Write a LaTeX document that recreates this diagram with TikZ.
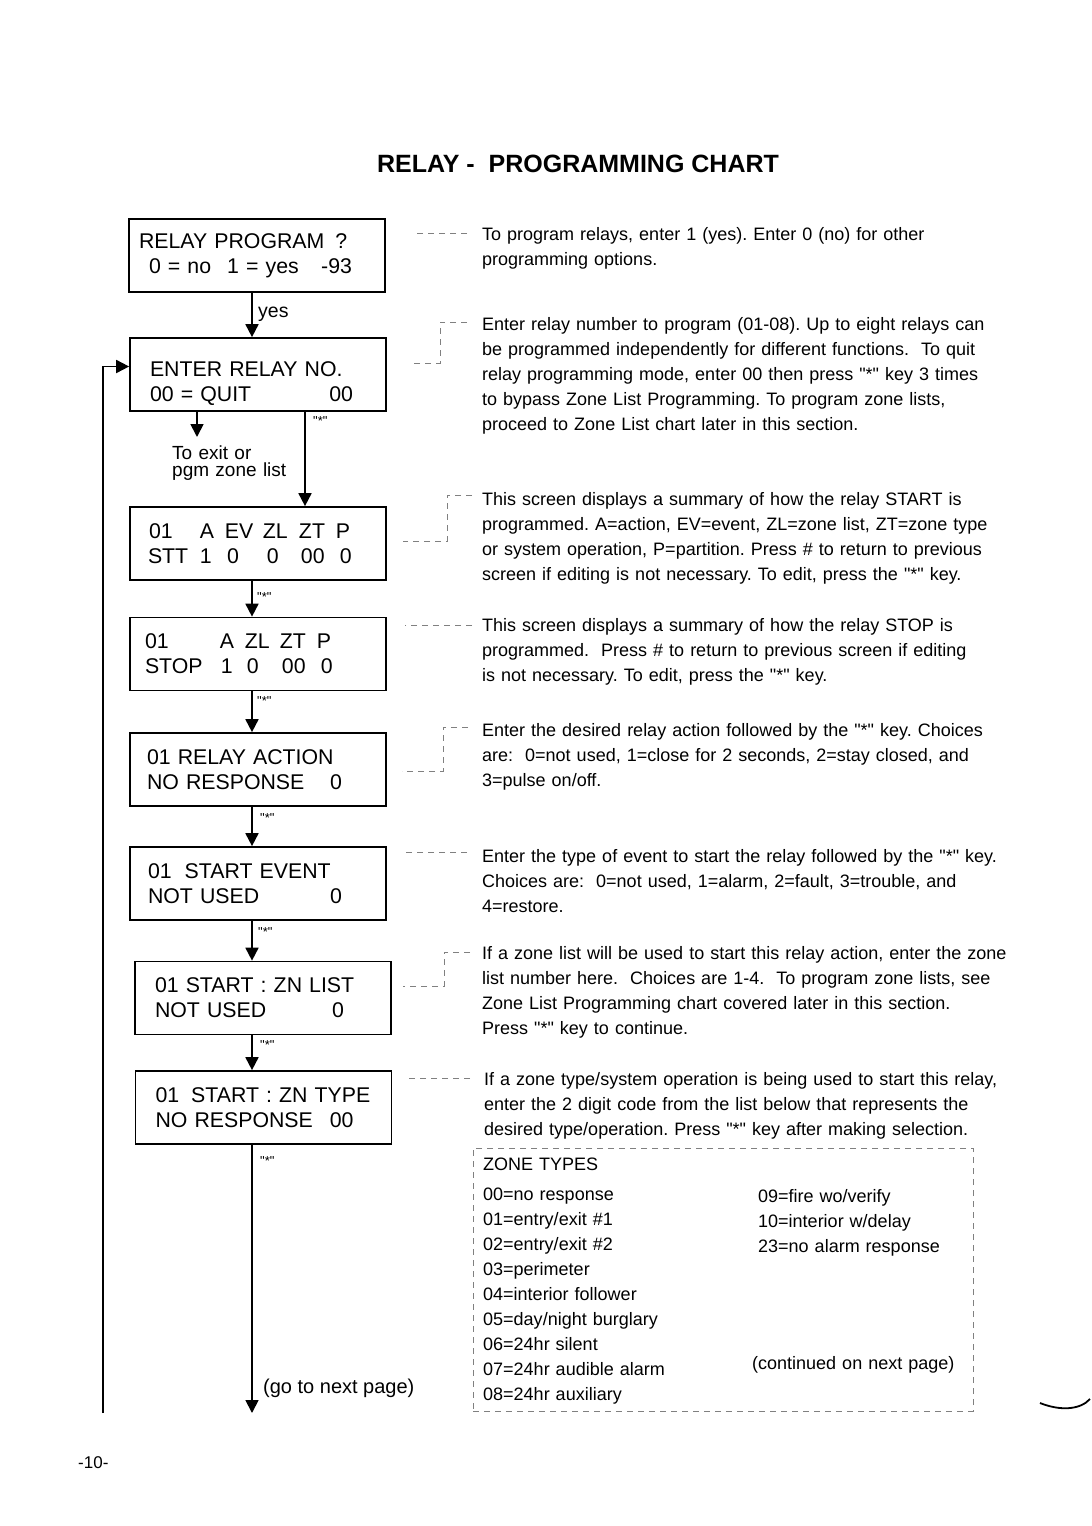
\documentclass[tikz,border=0pt]{standalone}
\usepackage{fontspec}
\setmainfont{Liberation Sans}
\usetikzlibrary{arrows.meta}
\frenchspacing
\newcommand\screenfont{\fontsize{21.3}{25}\selectfont}
\newcommand\notefont{\fontsize{18}{25}\selectfont}
\newcommand\scol[2]{\makebox[#1pt][l]{#2}}
\newcommand\qstar{\textquotedbl*\textquotedbl}

\begin{document}
\begin{tikzpicture}[x=1pt,y=-1pt,>={Triangle[width=13pt,length=13pt]},
  screen/.style={draw,line width=1.7pt,minimum height=73pt,inner xsep=10pt,inner ysep=0pt,text width=236pt,align=left,font=\screenfont},
  flow/.style={->,line width=1.8pt},
  leader/.style={gray,line width=0.7pt,dash pattern=on 6pt off 5pt},
  note/.style={anchor=base west,inner sep=0pt,text width=560pt,align=left,font=\notefont},
  keymark/.style={anchor=base west,inner sep=0pt,font=\fontsize{13}{13}\selectfont},
  zonebox/.style={draw=gray,line width=0.7pt,dash pattern=on 6pt off 5pt,minimum width=500pt,minimum height=263pt}]
\useasboundingbox (0,0) rectangle (1092,1526);

\node[anchor=base,font=\fontsize{25}{28}\selectfont\bfseries] (title) at (578,172) {RELAY -\ \ PROGRAMMING CHART};

% screens
\node[screen] (prog) at (257,255.5) {RELAY PROGRAM\hspace{11pt}?\\\hspace*{10pt}0 = no\hspace{16pt}1 = yes\hfill-93\hspace*{23pt}\null};
\node[screen] (relno) at (258,374.5) {\rule{0pt}{33pt}\hspace*{10pt}ENTER RELAY NO.\\\hspace*{10pt}00 = QUIT\hfill 00\hspace*{23pt}\null};
\node[screen] (startsum) at (258,543.5) {\hspace*{9pt}\scol{51}{01}\scol{25}{A}\scol{38}{EV}\scol{36}{ZL}\scol{37}{ZT}P\\\hspace*{8pt}\scol{52}{STT}\scol{27}{1}\scol{40}{0}\scol{34}{0}\scol{39}{00}0};
\node[screen] (stopsum) at (258,654) {\hspace*{5pt}\scol{75}{01}\scol{25}{A}\scol{35}{ZL}\scol{37}{ZT}P\\\hspace*{5pt}\scol{76}{STOP}\scol{26}{1}\scol{35}{0}\scol{39}{00}0};
\node[screen] (action) at (258,769.5) {\hspace*{7pt}01 RELAY ACTION\\\hspace*{7pt}NO RESPONSE\hfill 0\hspace*{34pt}\null};
\node[screen] (event) at (258,883.5) {\hspace*{8pt}01\hspace{13pt}START EVENT\\\hspace*{8pt}NOT USED\hfill 0\hspace*{34pt}\null};
\node[screen] (znlist) at (263,998) {\hspace*{10pt}01 START : ZN LIST\\\hspace*{10pt}NOT USED\hfill 0\hspace*{37pt}\null};
\node[screen] (zntype) at (263.5,1107.5) {\hspace*{10pt}01\hspace{12pt}START : ZN TYPE\\\hspace*{10pt}NO RESPONSE\hfill 00\hspace*{28pt}\null};

% arrows
\coordinate (spine) at (252,0);
\coordinate (exittip) at (197,437);
\coordinate (loopfoot) at (103,1413);
\coordinate (nextpage) at (252,1413);
\draw[flow] (prog.south -| spine) -- (relno.north -| spine);
\draw[flow] (relno.south -| exittip) -- (exittip);
\draw[flow] ([xshift=47pt]relno.south) -- ([xshift=47pt]startsum.north);
\draw[flow] (startsum.south -| spine) -- (stopsum.north -| spine);
\draw[flow] (stopsum.south -| spine) -- (action.north -| spine);
\draw[flow] (action.south -| spine) -- (event.north -| spine);
\draw[flow] (event.south -| spine) -- (znlist.north -| spine);
\draw[flow] (znlist.south -| spine) -- (zntype.north -| spine);
\draw[flow] (zntype.south -| spine) -- (nextpage);
\draw[flow] (loopfoot) |- ([yshift=8pt]relno.west);

\node[anchor=base west,inner sep=0pt,font=\fontsize{19.5}{25}\selectfont] (yes) at (258,317) {yes};
\node[anchor=base west,inner sep=0pt,text width=150pt,align=left,font=\fontsize{19}{17}\selectfont] (exit) at (172,459) {To exit or\\pgm zone list};
\node[keymark] (key1) at (313,425) {\qstar};
\node[keymark] (key2) at (257,601) {\qstar};
\node[keymark] (key3) at (257,705) {\qstar};
\node[keymark] (key4) at (260,822) {\qstar};
\node[keymark] (key5) at (258,936) {\qstar};
\node[keymark] (key6) at (260,1049) {\qstar};
\node[keymark] (key7) at (260,1165) {\qstar};
\node[anchor=base west,inner sep=0pt,font=\fontsize{20}{25}\selectfont] (gonext) at (263,1393) {(go to next page)};

% notes
\node[note] (note1) at (482,240) {To program relays, enter 1 (yes). Enter 0 (no) for other\\programming options.};
\node[note] (note2) at (482,330) {Enter relay number to program (01-08). Up to eight relays can\\be programmed independently for different functions.\ \ To quit\\relay programming mode, enter 00 then press \qstar{} key 3 times\\to bypass Zone List Programming. To program zone lists,\\proceed to Zone List chart later in this section.};
\node[note] (note3) at (482,505) {This screen displays a summary of how the relay START is\\programmed. A=action, EV=event, ZL=zone list, ZT=zone type\\or system operation, P=partition. Press \# to return to previous\\screen if editing is not necessary. To edit, press the \qstar{} key.};
\node[note] (note4) at (482,631) {This screen displays a summary of how the relay STOP is\\programmed.\ \ Press \# to return to previous screen if editing\\is not necessary. To edit, press the \qstar{} key.};
\node[note] (note5) at (482,736) {Enter the desired relay action followed by the \qstar{} key. Choices\\are:\ \ 0=not used, 1=close for 2 seconds, 2=stay closed, and\\3=pulse on/off.};
\node[note] (note6) at (482,862) {Enter the type of event to start the relay followed by the \qstar{} key.\\Choices are:\ \ 0=not used, 1=alarm, 2=fault, 3=trouble, and\\4=restore.};
\node[note] (note7) at (482,959) {If a zone list will be used to start this relay action, enter the zone\\list number here.\ \ Choices are 1-4.\ \ To program zone lists, see\\Zone List Programming chart covered later in this section.\\Press \qstar{} key to continue.};
\node[note] (note8) at (484,1085) {If a zone type/system operation is being used to start this relay,\\enter the 2 digit code from the list below that represents the\\desired type/operation. Press \qstar{} key after making selection.};

% leaders
\draw[leader] ([shift={(-15pt,7pt)}]note1.base west) -- ++(-54pt,0);
\draw[leader] ([shift={(-15pt,8pt)}]note2.base west) -- ++(-27pt,0) -- ++(0,-41pt) -- ++(-30pt,0);
\draw[leader] ([shift={(-10pt,10pt)}]note3.base west) -- ++(-25pt,0) -- ++(0,-46pt) -- ++(-44pt,0);
\draw[leader] ([shift={(-10pt,6pt)}]note4.base west) -- ++(-67pt,0);
\draw[leader] ([shift={(-14pt,9pt)}]note5.base west) -- ++(-25pt,0) -- ++(0,-44pt) -- ++(-41pt,0);
\draw[leader] ([shift={(-15pt,10pt)}]note6.base west) -- ++(-64pt,0);
\draw[leader] ([shift={(-12pt,7pt)}]note7.base west) -- ++(-26pt,0) -- ++(0,-34pt) -- ++(-41pt,0);
\draw[leader] ([shift={(-14pt,7pt)}]note8.base west) -- ++(-63pt,0);

% zone types
\node[zonebox] (zones) at (723,1279.5) {};
\node[note] (ztitle) at (483,1170) {ZONE TYPES};
\node[note,text width=260pt] (zleft) at (483,1200) {00=no response\\01=entry/exit \#1\\02=entry/exit \#2\\03=perimeter\\04=interior follower\\05=day/night burglary\\06=24hr silent\\07=24hr audible alarm\\08=24hr auxiliary};
\node[note,text width=210pt] (zright) at (758,1202) {09=fire wo/verify\\10=interior w/delay\\23=no alarm response};
\node[note,text width=215pt] (zcont) at (752,1369) {(continued on next page)};

\node[anchor=base west,inner sep=0pt,font=\fontsize{17}{20}\selectfont] (pageno) at (78,1468) {-10-};
\draw[line width=1.8pt] (1040,1403) .. controls (1060,1411) and (1080,1410) .. (1090,1399);
\end{tikzpicture}
\end{document}
